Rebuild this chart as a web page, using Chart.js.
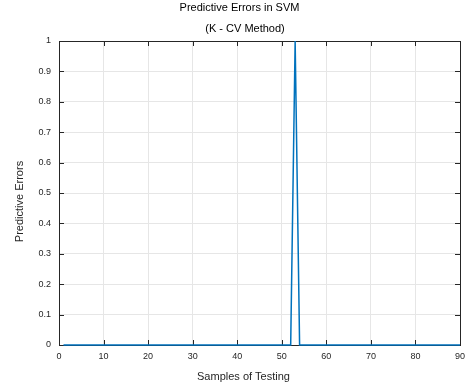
<!DOCTYPE html>
<html>
<head>
<meta charset="utf-8">
<script src="https://cdn.jsdelivr.net/npm/chart.js@4"></script>
<style>
html, body { margin: 0; padding: 0; background: #fff; }
</style>
</head>
<body>
<canvas id="chart" width="473" height="385"></canvas>
<script>
// sample index (1..90)
const samples = [
    1, 2, 3, 4, 5, 6, 7, 8, 9, 10,
    11, 12, 13, 14, 15, 16, 17, 18, 19, 20,
    21, 22, 23, 24, 25, 26, 27, 28, 29, 30,
    31, 32, 33, 34, 35, 36, 37, 38, 39, 40,
    41, 42, 43, 44, 45, 46, 47, 48, 49, 50,
    51, 52, 53, 54, 55, 56, 57, 58, 59, 60,
    61, 62, 63, 64, 65, 66, 67, 68, 69, 70,
    71, 72, 73, 74, 75, 76, 77, 78, 79, 80,
    81, 82, 83, 84, 85, 86, 87, 88, 89, 90
];
// predictive error per sample (only #53 wrong)
const errors = [
    0, 0, 0, 0, 0, 0, 0, 0, 0, 0,
    0, 0, 0, 0, 0, 0, 0, 0, 0, 0,
    0, 0, 0, 0, 0, 0, 0, 0, 0, 0,
    0, 0, 0, 0, 0, 0, 0, 0, 0, 0,
    0, 0, 0, 0, 0, 0, 0, 0, 0, 0,
    0, 0, 1, 0, 0, 0, 0, 0, 0, 0,
    0, 0, 0, 0, 0, 0, 0, 0, 0, 0,
    0, 0, 0, 0, 0, 0, 0, 0, 0, 0,
    0, 0, 0, 0, 0, 0, 0, 0, 0, 0
];
const xTicks = [0, 10, 20, 30, 40, 50, 60, 70, 80, 90];
const yTicks = [0, 0.1, 0.2, 0.3, 0.4, 0.5, 0.6, 0.7, 0.8, 0.9, 1];

const titleText = 'Predictive Errors in SVM';
const subtitleText = '(K - CV Method)';
const xLabel = 'Samples of Testing';
const yLabel = 'Predictive Errors';

const FONT = 'Liberation Sans, Arial, Helvetica, sans-serif';
const AXIS_COLOR = '#262626';

// MATLAB 스타일 박스 + 안쪽 눈금
const boxPlugin = {
    id: 'matlabBox',
    beforeDatasetsDraw(chart) {
        const { ctx, chartArea: a, scales: { x, y } } = chart;
        const len = 5;
        ctx.save();
        ctx.strokeStyle = AXIS_COLOR;
        ctx.lineWidth = 1;
        ctx.beginPath();
        xTicks.forEach(v => {
            const px = Math.round(x.getPixelForValue(v)) + 0.5;
            ctx.moveTo(px, a.bottom); ctx.lineTo(px, a.bottom - len);
            ctx.moveTo(px, a.top); ctx.lineTo(px, a.top + len);
        });
        yTicks.forEach(v => {
            const py = Math.round(y.getPixelForValue(v)) + 0.5;
            ctx.moveTo(a.left, py); ctx.lineTo(a.left + len, py);
            ctx.moveTo(a.right, py); ctx.lineTo(a.right - len, py);
        });
        ctx.stroke();
        ctx.strokeRect(Math.round(a.left) + 0.5, Math.round(a.top) + 0.5,
            Math.round(a.right - a.left), Math.round(a.bottom - a.top));
        ctx.restore();
    },
    // 제목/축 라벨 (원본 위치에 맞춤)
    afterDraw(chart) {
        const { ctx } = chart;
        ctx.save();
        ctx.font = '11px ' + FONT;
        ctx.textAlign = 'center';
        ctx.textBaseline = 'alphabetic';
        ctx.fillStyle = '#000';
        ctx.fillText(titleText, 239.5, 11);
        ctx.fillText(subtitleText, 245, 32);
        ctx.fillStyle = AXIS_COLOR;
        ctx.fillText(xLabel, 243.5, 379.5);
        ctx.translate(23, 201.5);
        ctx.rotate(-Math.PI / 2);
        ctx.fillText(yLabel, 0, 0);
        ctx.restore();
    }
};

new Chart(document.getElementById('chart'), {
    type: 'line',
    data: {
        datasets: [{
            data: samples.map((s, i) => ({ x: s, y: errors[i] })),
            borderColor: '#0072BD',
            borderWidth: 1.5,
            pointRadius: 0,
            tension: 0,
            fill: false,
            clip: false
        }]
    },
    options: {
        responsive: false,
        animation: false,
        layout: { padding: { left: 0, right: 13, top: 41, bottom: 0 } },
        plugins: {
            legend: { display: false },
            tooltip: { enabled: false }
        },
        scales: {
            x: {
                type: 'linear',
                min: 0,
                max: 90,
                afterBuildTicks: s => { s.ticks = xTicks.map(v => ({ value: v })); },
                afterFit: s => { s.height = 40; },
                ticks: { color: AXIS_COLOR, font: { family: FONT, size: 9 }, padding: 6, maxRotation: 0 },
                grid: { color: '#e6e6e6', drawTicks: false },
                border: { display: false }
            },
            y: {
                min: 0,
                max: 1,
                afterBuildTicks: s => { s.ticks = yTicks.map(v => ({ value: v })); },
                afterFit: s => { s.width = 59; },
                ticks: {
                    color: AXIS_COLOR,
                    font: { family: FONT, size: 9 },
                    padding: 8,
                    callback: v => String(v)
                },
                grid: { color: '#e6e6e6', drawTicks: false },
                border: { display: false }
            }
        }
    },
    plugins: [boxPlugin]
});
</script>
</body>
</html>
